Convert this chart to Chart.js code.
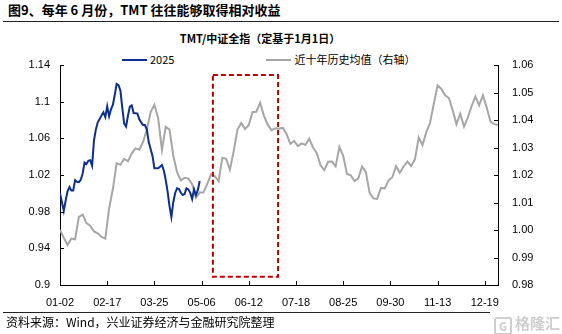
<!DOCTYPE html>
<html>
<head>
<meta charset="utf-8">
<script src="https://cdn.jsdelivr.net/npm/chart.js@4.4.1/dist/chart.umd.min.js"></script>
<style>
  html, body { margin: 0; padding: 0; background: #fff; }
  body { width: 562px; height: 334px; position: relative; overflow: hidden;
         font-family: "Noto Sans CJK SC", "Liberation Sans", sans-serif; color: #000; }
  #head { position: absolute; left: 8px; top: 1px; font-size: 13px; font-weight: bold; line-height: 18px; white-space: nowrap; }
  .rule { position: absolute; left: 3px; right: 3px; border-top: 1px solid #222; }
  #ctitle { position: absolute; left: 0; width: 520px; top: 30px; text-align: center;
            font-size: 11px; font-weight: bold; line-height: 16px; }
  #legend { position: absolute; left: 122px; top: 51px; font-size: 11px; line-height: 16px; white-space: nowrap; }
  #legend .item { display: inline-block; margin-right: 92px; }
  #legend .swatch { display: inline-block; width: 25px; height: 0; border-top: 2px solid; vertical-align: middle; margin-right: 3px; position: relative; top: -1px; }
  #source { position: absolute; left: 6px; top: 314px; font-size: 12px; line-height: 16px; white-space: nowrap; }
  #mark { position: absolute; left: 490px; top: 312px; width: 72px; height: 22px; background: #fff;
          color: #cfcfcf; font-size: 15px; font-weight: bold; line-height: 22px; white-space: nowrap; }
  #mark b { display: inline-block; width: 14px; height: 14px; border: 2px solid #cfcfcf; border-radius: 3px;
            font-size: 11px; line-height: 14px; text-align: center; margin: 0 3px 0 4px; vertical-align: -2px; }
  canvas { position: absolute; left: 0; top: 0; }
</style>
</head>
<body>
<div id="head">图9、每年 6 月份，TMT 往往能够取得相对收益</div>
<div class="rule" style="top:21px"></div>
<div id="ctitle">TMT/中证全指（定基于1月1日）</div>
<div id="legend"></div>
<canvas id="chart" width="562" height="334"></canvas>
<div class="rule" style="top:312px"></div>
<div id="source">资料来源：Wind，兴业证券经济与金融研究院整理</div>
<div id="mark"><b>G</b>格隆汇</div>

<script>
// x axis labels, one every 25 trading days
const X_TICKS = ['01-02', '02-17', '03-25', '05-06', '06-12', '07-18', '08-25', '09-30', '11-13', '12-19'];
const X_TICK_STEP = 25;
const X_LAST = 232;

const LEFT_TICKS = [0.9, 0.94, 0.98, 1.02, 1.06, 1.1, 1.14];
const RIGHT_TICKS = [0.98, 0.99, 1.00, 1.01, 1.02, 1.03, 1.04, 1.05, 1.06];

// 2025, daily from 01-02 (left axis)
const TMT_2025 = [
  1.0000, 0.9905, 0.9809, 0.9922, 1.0022, 1.0069, 1.0030, 1.0031, 1.0144, 1.0126,
  1.0121, 1.0149, 1.0217, 1.0335, 1.0319, 1.0355, 1.0361, 1.0301, 1.0577, 1.0697,
  1.0775, 1.0810, 1.0850, 1.0885, 1.0832, 1.0950, 1.0840, 1.0916, 1.0964, 1.1073,
  1.1193, 1.1179, 1.1121, 1.0932, 1.0760, 1.0729, 1.0846, 1.0946, 1.0960, 1.0876,
  1.0873, 1.0870, 1.0807, 1.0774, 1.0745, 1.0745, 1.0695, 1.0559, 1.0484, 1.0407,
  1.0273, 1.0273, 1.0273, 1.0289, 1.0309, 1.0249, 1.0145, 1.0018, 0.9860, 0.9742,
  0.9903, 1.0004, 1.0055, 1.0046, 1.0006, 0.9982, 0.9992, 1.0056, 1.0043, 1.0005,
  0.9938, 1.0044, 0.9982, 1.0034, 1.0135
];

// ten-year average, every 2nd trading day (right axis)
const AVG_STEP = 2;
const TMT_AVG10 = [
  1.0000, 0.9972, 0.9946, 0.9969, 0.9966, 1.0048, 1.0056, 1.0025, 1.0016, 0.9995,
  0.9988, 0.9975, 0.9969, 1.0078, 1.0149, 1.0243, 1.0237, 1.0259, 1.0250, 1.0279,
  1.0297, 1.0292, 1.0320, 1.0364, 1.0429, 1.0455, 1.0407, 1.0291, 1.0375, 1.0365,
  1.0271, 1.0210, 1.0180, 1.0190, 1.0187, 1.0167, 1.0117, 1.0136, 1.0136, 1.0168,
  1.0202, 1.0195, 1.0178, 1.0263, 1.0259, 1.0219, 1.0287, 1.0365, 1.0389, 1.0367,
  1.0382, 1.0429, 1.0430, 1.0463, 1.0416, 1.0383, 1.0363, 1.0370, 1.0368, 1.0372,
  1.0349, 1.0313, 1.0324, 1.0305, 1.0315, 1.0309, 1.0332, 1.0300, 1.0280, 1.0235,
  1.0218, 1.0248, 1.0249, 1.0231, 1.0302, 1.0270, 1.0204, 1.0199, 1.0178, 1.0188,
  1.0231, 1.0211, 1.0135, 1.0115, 1.0113, 1.0153, 1.0151, 1.0180, 1.0192, 1.0232,
  1.0208, 1.0231, 1.0249, 1.0233, 1.0257, 1.0336, 1.0309, 1.0356, 1.0389, 1.0459,
  1.0526, 1.0513, 1.0490, 1.0480, 1.0435, 1.0385, 1.0423, 1.0376, 1.0409, 1.0450,
  1.0485, 1.0453, 1.0490, 1.0446, 1.0394, 1.0385, 1.0382
];

// highlighted June window (x in trading days, y on left axis)
const JUNE_BOX = { from: 81, to: 115.5, top: 1.129, bottom: 0.909 };

const tickFont = { family: '"Liberation Sans", Arial, sans-serif', size: 11 };

// small tick marks pointing into the plot
const insideTicks = {
  id: 'insideTicks',
  afterDatasetsDraw(chart) {
    const { ctx, chartArea: a, scales } = chart;
    ctx.save();
    ctx.strokeStyle = '#000';
    ctx.lineWidth = 1;
    ctx.beginPath();
    scales.x.ticks.forEach(t => {
      const px = Math.round(scales.x.getPixelForValue(t.value)) + 0.5;
      ctx.moveTo(px, a.bottom); ctx.lineTo(px, a.bottom - 4);
    });
    scales.y.ticks.forEach(t => {
      const py = Math.round(scales.y.getPixelForValue(t.value)) + 0.5;
      ctx.moveTo(a.left, py); ctx.lineTo(a.left + 4, py);
    });
    scales.y1.ticks.forEach(t => {
      const py = Math.round(scales.y1.getPixelForValue(t.value)) + 0.5;
      ctx.moveTo(a.right, py); ctx.lineTo(a.right - 4, py);
    });
    ctx.stroke();
    ctx.restore();
  }
};

const juneBox = {
  id: 'juneBox',
  afterDatasetsDraw(chart) {
    const { ctx, scales } = chart;
    const x1 = scales.x.getPixelForValue(JUNE_BOX.from);
    const x2 = scales.x.getPixelForValue(JUNE_BOX.to);
    const y1 = scales.y.getPixelForValue(JUNE_BOX.top);
    const y2 = scales.y.getPixelForValue(JUNE_BOX.bottom);
    ctx.save();
    ctx.strokeStyle = '#c00000';
    ctx.lineWidth = 2;
    ctx.setLineDash([5, 3]);
    ctx.strokeRect(x1, y1, x2 - x1, y2 - y1);
    ctx.restore();
  }
};

const ctx = document.getElementById('chart').getContext('2d');
const chart = new Chart(ctx, {
  type: 'line',
  data: {
    datasets: [
      {
        label: '2025',
        data: TMT_2025.map((v, i) => ({ x: i, y: v })),
        yAxisID: 'y',
        borderColor: '#0e2f8c',
        borderWidth: 2,
        pointRadius: 0,
        order: 0
      },
      {
        label: '近十年历史均值（右轴）',
        data: TMT_AVG10.map((v, i) => ({ x: i * AVG_STEP, y: v })),
        yAxisID: 'y1',
        borderColor: '#a6a6a6',
        borderWidth: 2,
        pointRadius: 0,
        order: 1
      }
    ]
  },
  options: {
    responsive: false,
    animation: false,
    layout: { padding: { top: 65, left: 0, right: 0, bottom: 0 } },
    plugins: { legend: { display: false }, title: { display: false }, tooltip: { enabled: false } },
    scales: {
      x: {
        type: 'linear', min: 0, max: X_LAST,
        grid: { display: false, drawTicks: false },
        border: { color: '#000', width: 1 },
        afterBuildTicks: s => { s.ticks = X_TICKS.map((_, k) => ({ value: k * X_TICK_STEP })); },
        afterFit: s => { s.height = 49; },
        ticks: {
          padding: 11, color: '#000', font: tickFont, maxRotation: 0, autoSkip: false,
          callback: v => X_TICKS[Math.round(v / X_TICK_STEP)]
        }
      },
      y: {
        position: 'left', min: 0.9, max: 1.14,
        grid: { display: false, drawTicks: false },
        border: { color: '#000', width: 1 },
        afterBuildTicks: s => { s.ticks = LEFT_TICKS.map(v => ({ value: v })); },
        afterFit: s => { s.width = 60; },
        ticks: { padding: 10, color: '#000', font: tickFont, callback: v => String(+v.toFixed(2)) }
      },
      y1: {
        position: 'right', min: 0.98, max: 1.06,
        grid: { display: false, drawTicks: false },
        border: { color: '#000', width: 1 },
        afterBuildTicks: s => { s.ticks = RIGHT_TICKS.map(v => ({ value: v })); },
        afterFit: s => { s.width = 64; },
        ticks: { padding: 14, color: '#000', font: tickFont, callback: v => v.toFixed(2) }
      }
    }
  },
  plugins: [insideTicks, juneBox]
});

// legend built from the datasets
const legend = document.getElementById('legend');
chart.data.datasets.forEach(ds => {
  const item = document.createElement('span');
  item.className = 'item';
  item.innerHTML = '<span class="swatch" style="border-color:' + ds.borderColor + '"></span>' + ds.label;
  legend.appendChild(item);
});
</script>
</body>
</html>
